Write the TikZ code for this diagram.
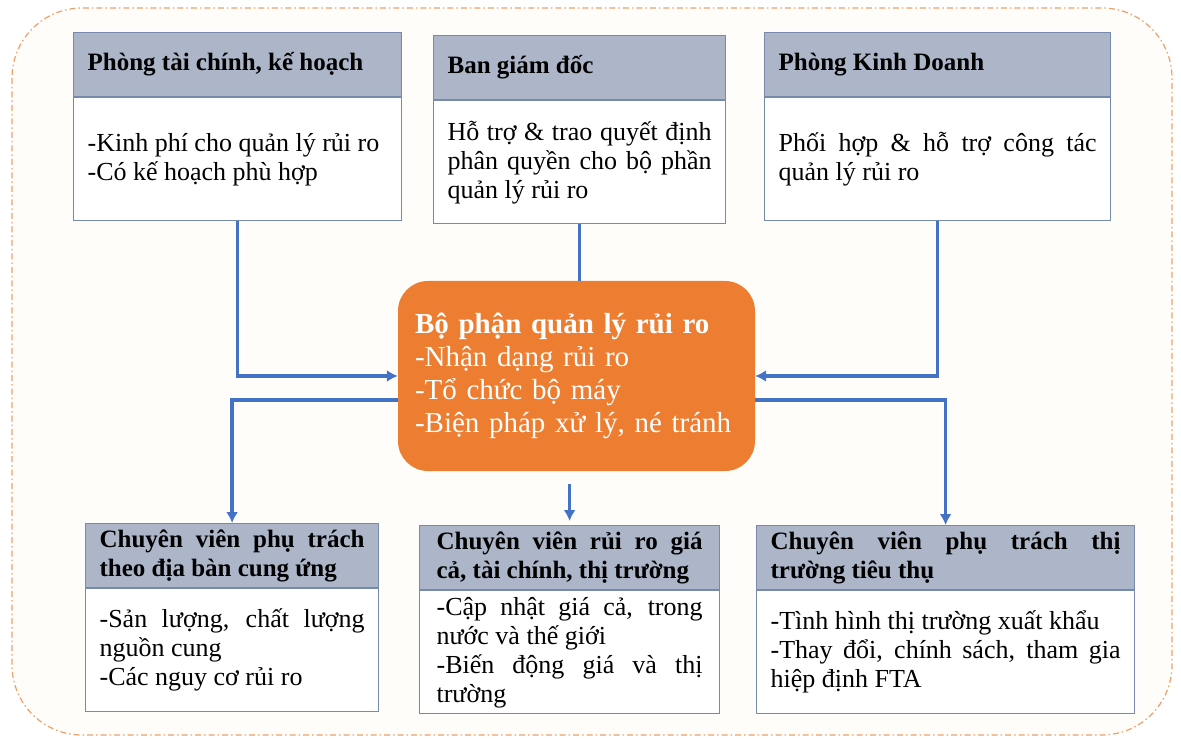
\documentclass[tikz,border=0pt]{standalone}
\usepackage{fontspec}
\setmainfont{Liberation Serif}
\usetikzlibrary{positioning,arrows.meta}
\definecolor{headgray}{RGB}{172,182,200}
\definecolor{edgeblue}{RGB}{118,138,172}
\definecolor{arrowblue}{RGB}{68,114,196}
\definecolor{riskorange}{RGB}{237,125,49}
\definecolor{frameorange}{RGB}{236,160,105}
\definecolor{paper}{RGB}{255,253,249}

\begin{document}
\begin{tikzpicture}[x=1pt, y=-1pt, node distance=0pt, >={Latex[length=11pt,width=12pt]}]
\tikzstyle{head} = [draw=edgeblue, fill=headgray, line width=1.2pt, anchor=north west, inner xsep=14pt, inner ysep=2pt, minimum height=64pt, align=justify, font=\bfseries\fontsize{25}{29}\selectfont]
\tikzstyle{body} = [draw=edgeblue, fill=white, line width=1.2pt, inner xsep=14pt, inner ysep=2pt, minimum height=123pt, align=justify, font=\fontsize{26}{29}\selectfont]
\tikzstyle{hubbox} = [fill=riskorange, rounded corners=30pt, minimum width=357pt, minimum height=190pt, inner xsep=17pt, text width=323pt, align=left, text=white, font=\fontsize{29}{33}\selectfont]
\tikzstyle{link} = [draw=arrowblue, line width=3.5pt]

\useasboundingbox (0,0) rectangle (1181,743);

% dotted frame round the whole chart
\draw[frameorange, line width=1.2pt, dash pattern=on 6pt off 3pt on 1.5pt off 3pt, rounded corners=70pt, fill=paper] (12,8) rectangle (1172,735);

% the three offices on top
\node[head, text width=300pt] (tlh) at (73,32) {Phòng tài chính, kế hoạch};
\node[body, text width=300pt, below=of tlh] (tlb) {-Kinh phí cho quản lý rủi ro\\-Có kế hoạch phù hợp};

\node[head, text width=264pt] (tmh) at (433,35) {Ban giám đốc};
\node[body, text width=264pt, below=of tmh] (tmb) {Hỗ trợ \& trao quyết định phân quyền cho bộ phần quản lý rủi ro};

\node[head, text width=318pt] (trh) at (764,32) {Phòng Kinh Doanh};
\node[body, text width=318pt, below=of trh] (trb) {Phối hợp \& hỗ trợ công tác quản lý rủi ro};

% risk unit in the middle
\node[hubbox] (hub) at (576.5,376) {\textbf{Bộ phận quản lý rủi ro}\\-Nhận dạng rủi ro\\-Tổ chức bộ máy\\-Biện pháp xử lý, né tránh};

% the three specialists below
\node[head, text width=265pt] (blh) at (85,523) {Chuyên viên phụ trách theo địa bàn cung ứng};
\node[body, text width=265pt, below=of blh] (blb) {-Sản lượng, chất lượng nguồn cung\\-Các nguy cơ rủi ro};

\node[head, text width=266pt, inner xsep=17pt] (bmh) at (419,525) {Chuyên viên rủi ro giá\linebreak cả, tài chính, thị trường};
\node[body, text width=266pt, inner xsep=17pt, below=of bmh] (bmb) {-Cập nhật giá cả, trong nước và thế giới\\-Biến động giá và thị trường};

\node[head, text width=350pt] (brh) at (756,525) {Chuyên viên phụ trách thị trường tiêu thụ};
\node[body, text width=350pt, below=of brh] (brb) {-Tình hình thị trường xuất khẩu\\-Thay đổi, chính sách, tham gia hiệp định FTA};

% connectors
\draw[link,->] (tlb.south) |- (hub.west);
\draw[link,->] (trb.south) |- (hub.east);
\draw[link] (tmb.south) -- (tmb.south |- hub.north);
\draw[link,->] ([yshift=-24pt]hub.west) -| (blh.north);
\draw[link,->] ([yshift=-24pt]hub.east) -| (brh.north);
\draw[link,->, shorten <=13pt, shorten >=4pt] (hub.south -| bmh.north) -- (bmh.north);

\end{tikzpicture}
\end{document}
